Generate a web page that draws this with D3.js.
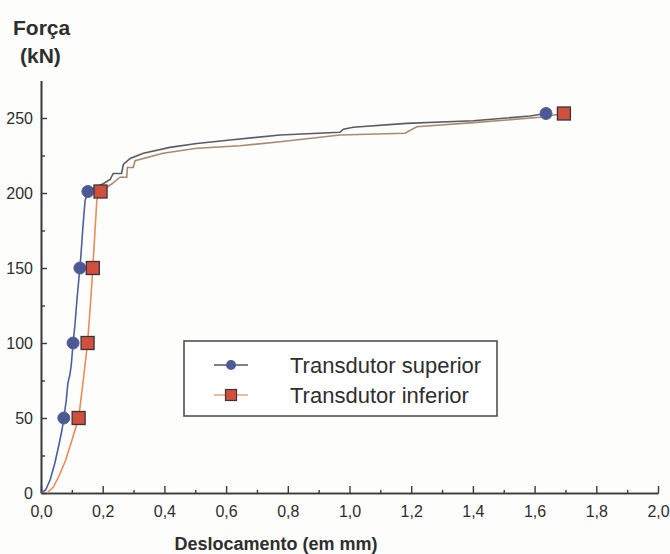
<!DOCTYPE html>
<html>
<head>
<meta charset="utf-8">
<script src="https://cdn.jsdelivr.net/npm/d3@7"></script>
<style>
  html, body { margin: 0; padding: 0; background: #fdfdfc; }
  svg { display: block; font-family: "Liberation Sans", Arial, sans-serif; }
</style>
</head>
<body>
<svg id="chart" width="670" height="554"></svg>
<script>
// ---- Data ----
const supX = [0, 0.015, 0.03, 0.045, 0.058, 0.068, 0.074, 0.082, 0.087, 0.09, 0.093, 0.098, 0.104, 0.11, 0.117, 0.126, 0.13, 0.135, 0.14, 0.143, 0.148, 0.152, 0.175, 0.2, 0.224, 0.234, 0.261, 0.267, 0.289, 0.332, 0.418, 0.505, 0.613, 0.775, 0.969, 0.98, 1.012, 1.185, 1.401, 1.585, 1.637];
const supY = [0, 2, 9, 20, 32, 42, 50, 62, 73, 76, 78, 85, 100, 112, 130, 150, 160, 175, 188, 195, 198, 201, 204, 206, 209, 213, 213, 219, 223, 226.5, 230.4, 233, 235.3, 238.7, 240.5, 242.5, 243.8, 246.4, 248.2, 251.3, 253];
const infX = [0.02, 0.04, 0.06, 0.08, 0.1, 0.122, 0.137, 0.151, 0.16, 0.168, 0.175, 0.181, 0.186, 0.193, 0.229, 0.256, 0.278, 0.28, 0.299, 0.305, 0.396, 0.505, 0.645, 0.775, 0.969, 1.18, 1.218, 1.401, 1.51, 1.617, 1.695];
const infY = [0, 4, 12, 22, 35, 50, 75, 100, 125, 150, 175, 195, 199, 201, 206, 210.5, 210.5, 217, 217, 221.5, 226.5, 229.8, 231.5, 234.2, 238.7, 239.8, 244.2, 246.9, 248.7, 250.5, 253];
const supMarkX = [0.074, 0.104, 0.126, 0.152, 1.637];
const supMarkY = [50, 100, 150, 201, 253];
const infMarkX = [0.122, 0.151, 0.168, 0.193, 1.695];
const infMarkY = [50, 100, 150, 201, 253];
const xTicks = [0, 0.2, 0.4, 0.6, 0.8, 1.0, 1.2, 1.4, 1.6, 1.8, 2.0];
const xMinorTicks = [0.1, 0.3, 0.5, 0.7, 0.9, 1.1, 1.3, 1.5, 1.7, 1.9];
const yTicks = [0, 50, 100, 150, 200, 250];
const yMinorTicks = [25, 75, 125, 175, 225];
const seriesNames = ["Transdutor superior", "Transdutor inferior"];
const yTitle = ["Força", "(kN)"];
const xTitle = "Deslocamento (em mm)";

// ---- Layout ----
const svg = d3.select("#chart");
const x = d3.scaleLinear().domain([0, 2]).range([41, 658]);
const y = d3.scaleLinear().domain([0, 275]).range([493, 80.5]);
const axisColor = "#3a3a3a";
const textColor = "#2e2e2e";
const fmt = d => d3.format(".1f")(d).replace(".", ",");

// gradients: coloured lower part, greyish upper part
const defs = svg.append("defs");
function grad(id, low, high) {
  const g = defs.append("linearGradient").attr("id", id)
    .attr("gradientUnits", "userSpaceOnUse")
    .attr("x1", 0).attr("x2", 0).attr("y1", y(0)).attr("y2", y(275));
  const cut = (y(0) - y(203)) / (y(0) - y(275));
  g.append("stop").attr("offset", 0).attr("stop-color", low);
  g.append("stop").attr("offset", cut).attr("stop-color", low);
  g.append("stop").attr("offset", cut).attr("stop-color", high);
  g.append("stop").attr("offset", 1).attr("stop-color", high);
}
grad("gSup", "#4d5e9e", "#5b5b66");
grad("gInf", "#e98c55", "#a98a6e");

// ---- Axes ----
const yAxis = d3.axisLeft(y).tickValues(yTicks).tickSize(-6).tickSizeOuter(0).tickPadding(8).tickFormat(d3.format("d"));
const yMinor = d3.axisLeft(y).tickValues(yMinorTicks).tickSize(-4).tickSizeOuter(0).tickFormat("");
const xAxis = d3.axisBottom(x).tickValues(xTicks).tickSize(-7).tickSizeOuter(0).tickPadding(13).tickFormat(fmt);
const xMinor = d3.axisBottom(x).tickValues(xMinorTicks).tickSize(-3).tickSizeOuter(0).tickFormat("");

function style(g) {
  g.selectAll("path.domain").attr("stroke", axisColor).attr("stroke-width", 1.6);
  g.selectAll(".tick line").attr("stroke", axisColor).attr("stroke-width", 1.4);
  g.selectAll(".tick text").attr("fill", textColor).style("font-size", "16px")
    .style("font-family", "'Liberation Sans', Arial, sans-serif");
}
svg.append("g").attr("transform", `translate(${x(0)},0)`).call(yMinor).call(style);
svg.append("g").attr("transform", `translate(${x(0)},0)`).call(yAxis).call(style);
svg.append("g").attr("transform", `translate(0,${y(0)})`).call(xMinor).call(style);
svg.append("g").attr("transform", `translate(0,${y(0)})`).call(xAxis).call(style);

// ---- Titles ----
svg.append("text").attr("x", 13).attr("y", 35).text(yTitle[0])
  .attr("fill", textColor).style("font-size", "21px").style("font-weight", "bold");
svg.append("text").attr("x", 20).attr("y", 63).text(yTitle[1])
  .attr("fill", textColor).style("font-size", "21px").style("font-weight", "bold");
svg.append("text").attr("x", 276).attr("y", 550).attr("text-anchor", "middle").text(xTitle)
  .attr("fill", textColor).style("font-size", "18px").style("font-weight", "bold");

// ---- Lines ----
const line = d3.line().x(d => x(d[0])).y(d => y(d[1]));
const supData = d3.zip(supX, supY);
const infData = d3.zip(infX, infY);
svg.append("path").datum(infData).attr("d", line).attr("fill", "none")
  .attr("stroke", "url(#gInf)").attr("stroke-width", 1.6);
svg.append("path").datum(supData).attr("d", line).attr("fill", "none")
  .attr("stroke", "url(#gSup)").attr("stroke-width", 1.6);

// ---- Markers ----
const circFill = "#4b5a96", sqFill = "#d0503c", markStroke = "#3a3440";
svg.selectAll("circle.sup").data(d3.zip(supMarkX, supMarkY)).join("circle")
  .attr("class", "sup").attr("cx", d => x(d[0])).attr("cy", d => y(d[1])).attr("r", 6)
  .attr("fill", circFill).attr("stroke", "#5a6088").attr("stroke-width", 1);
svg.selectAll("rect.inf").data(d3.zip(infMarkX, infMarkY)).join("rect")
  .attr("class", "inf").attr("x", d => x(d[0]) - 6.5).attr("y", d => y(d[1]) - 6.5)
  .attr("width", 13).attr("height", 13)
  .attr("fill", sqFill).attr("stroke", markStroke).attr("stroke-width", 1.3);

// ---- Legend ----
const leg = svg.append("g");
leg.append("rect").attr("x", 184).attr("y", 341).attr("width", 313).attr("height", 75)
  .attr("fill", "#ffffff").attr("stroke", "#505050").attr("stroke-width", 1.6);
const legY = [365, 395];
leg.append("line").attr("x1", 214).attr("x2", 248).attr("y1", legY[0]).attr("y2", legY[0])
  .attr("stroke", "#4e5470").attr("stroke-width", 1.5);
leg.append("circle").attr("cx", 231).attr("cy", legY[0]).attr("r", 5).attr("fill", circFill);
leg.append("line").attr("x1", 214).attr("x2", 248).attr("y1", legY[1]).attr("y2", legY[1])
  .attr("stroke", "#eaa37a").attr("stroke-width", 1.5);
leg.append("rect").attr("x", 231 - 5.5).attr("y", legY[1] - 5.5).attr("width", 11).attr("height", 11)
  .attr("fill", sqFill).attr("stroke", markStroke).attr("stroke-width", 1.2);
seriesNames.forEach((n, i) => {
  leg.append("text").attr("x", 290).attr("y", legY[i] + 7.5).text(n)
    .attr("fill", textColor).style("font-size", "22px");
});
</script>
</body>
</html>
